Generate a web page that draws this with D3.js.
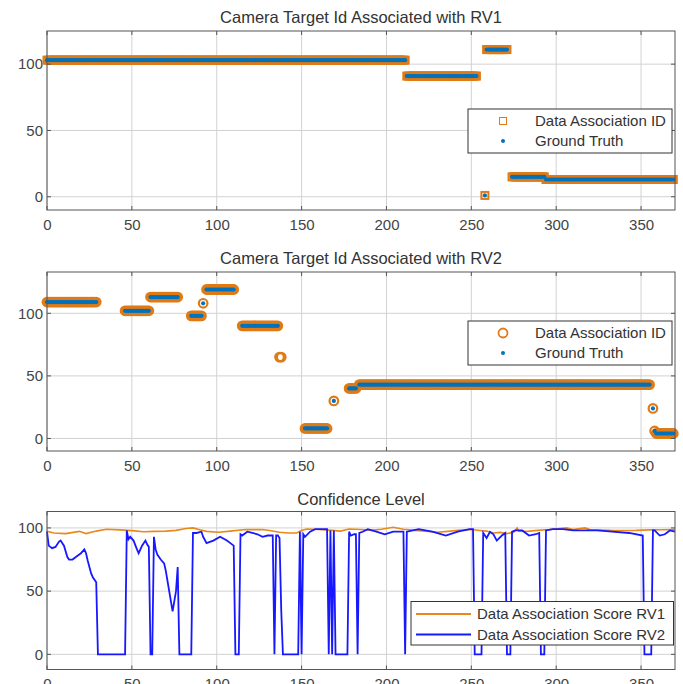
<!DOCTYPE html>
<html>
<meta charset="utf-8">
<head>
    <script src="https://d3js.org/d3.v7.min.js"></script>
</head>

<style>
  body { margin: 0; background: #fff; }
  svg text { font-family: "Liberation Sans", Arial, sans-serif; fill: #404040; }
  svg .title { font-size: 16.5px; text-anchor: middle; fill: #333; }
  svg .tick text { font-size: 15px; fill: #444; }
  svg .grid line { stroke: #d2d2d2; stroke-width: 1; }
  svg .frame { fill: none; stroke: #555; stroke-width: 1; }
  svg .legend rect { fill: #fff; stroke: #333; stroke-width: 1; }
  svg .legend text { font-size: 15px; fill: #333; }
</style>

<body>
<script>

// ticks
var xTicks = [0, 50, 100, 150, 200, 250, 300, 350];
var yTicks = [0, 50, 100];

// RV1 target ids, stored as runs of frames (start, end, id)
var rv1Start = [0, 212, 258, 259, 274, 294];
var rv1End   = [211, 253, 258, 271, 293, 369];
var rv1Id    = [103, 91, 1, 111, 15, 13];
var gt1Start = [0, 212, 258, 259, 274, 294];
var gt1End   = [211, 253, 258, 271, 293, 369];
var gt1Id    = [103, 91, 1, 111, 15, 13];

// RV2 target ids
var rv2Start = [0, 46, 61, 85, 92, 94, 115, 137, 152, 169, 178, 184, 357, 358, 359];
var rv2End   = [29, 60, 77, 91, 92, 110, 136, 138, 165, 169, 182, 355, 357, 358, 369];
var rv2Id    = [109, 102, 113, 98, 108, 119, 90, 65, 8, 30, 40, 43, 24, 6, 4];
var gt2Start = [0, 46, 61, 85, 92, 94, 115, 152, 169, 178, 184, 357, 358, 359];
var gt2End   = [29, 60, 77, 91, 92, 110, 136, 165, 169, 182, 355, 357, 358, 369];
var gt2Id    = [109, 102, 113, 98, 108, 119, 90, 8, 30, 40, 43, 24, 6, 4];

// confidence level
var score1Frame = [0, 4, 11, 19, 23, 29, 35, 43, 50, 57, 63, 70, 76, 82, 86, 90, 94, 101, 108, 117,
                   127, 132, 137, 142, 147, 150, 153, 160, 168, 173, 178, 185, 191, 197, 204, 210,
                   217, 223, 230, 236, 242, 250, 255, 259, 263, 267, 271, 275, 277, 278, 283, 289,
                   296, 302, 306, 310, 314, 317, 320, 326, 332, 340, 347, 355, 362, 370];
var score1Val   = [97.3, 96, 95.5, 97.3, 95.5, 97.5, 99, 98.5, 97.9, 97, 97.3, 97.5, 98.1, 99.5, 100, 98.5,
                   97.3, 96.6, 97.5, 98.7, 98.7, 97.8, 96.6, 96, 96, 98, 99.2, 98.7, 98.1, 97.5, 99.2,
                   98.8, 98.1, 99, 100.5, 99, 98.1, 97.5, 96.6, 97.3, 98.1, 98.7, 98, 97.5, 96, 96.5,
                   95.5, 96.5, 100, 97.5, 97.3, 98.1, 98.7, 99.5, 100, 98.7, 99.5, 100, 98.5, 98.4,
                   98.1, 98, 98.1, 98.5, 98.6, 98.7];

var score2Frame = [0, 1, 3, 5, 7, 8, 10, 12, 13, 15, 18, 20, 22, 23, 24, 26, 27, 29, 30, 46,
                   47, 48, 49, 51, 53, 54, 56, 58, 59, 60, 61, 62, 63, 64, 65, 67, 69, 70, 71, 74,
                   76, 77, 78, 85, 86, 88, 91, 92, 94, 98, 102, 106, 109, 110, 111, 113, 114, 115, 118, 121,
                   124, 127, 130, 133, 134, 135, 136, 137, 138, 139, 148, 149, 150, 151, 152, 155, 158, 165, 166, 167,
                   168, 169, 170, 177, 178, 179, 181, 182, 183, 184, 186, 189, 194, 199, 204, 210, 211, 212, 219, 227,
                   235, 242, 249, 251, 252, 256, 257, 259, 261, 263, 265, 268, 270, 271, 273, 274, 276, 280, 284, 288,
                   290, 291, 293, 294, 298, 304, 310, 316, 324, 333, 343, 351, 352, 356, 357, 358, 361, 364, 367, 370];
var score2Val   = [97, 86, 84, 85, 89, 90, 86, 77, 75, 75, 78, 80, 83, 80, 74, 64, 61, 57, 0, 0,
                   98, 91, 93, 90, 83, 80, 86, 90, 87, 85, 0, 0, 93, 83, 79, 75, 72, 66, 58, 34,
                   50, 69, 0, 0, 96, 96, 97, 93, 88, 90, 93, 90, 87, 86, 0, 0, 95, 94, 97, 96,
                   95, 93, 94, 94, 0, 94, 94, 92, 35, 0, 0, 97, 0, 95, 93, 97, 99, 99, 0, 98,
                   0, 98, 0, 0, 97, 94, 95, 95, 0, 96, 97, 99, 97, 95, 97, 97, 0, 97, 99, 97,
                   94, 97, 99, 99, 0, 0, 96, 92, 97, 95, 90, 94, 96, 0, 0, 97, 98, 98, 94, 95,
                   96, 0, 0, 98, 99, 99, 98, 98, 98, 97, 96, 94, 0, 0, 98, 98, 94, 95, 98, 97];

var orange = "#E07A14",
    blue = "#0072BD";

function expand(starts, ends, ids) {
    var pts = [];
    starts.forEach(function(s, i) {
        for (var f = s; f <= ends[i]; f++) pts.push({f: f, v: ids[i]});
    });
    return pts;
}

var width = 683,
    height = 684,
    left = 47,
    right = 675;

var svg = d3.select("body").append("svg")
    .attr("width", width)
    .attr("height", height);

var x = d3.scaleLinear().domain([0, 370]).range([left, right]);

function panel(top, bottom, yDomain, title, titleY) {
    var y = d3.scaleLinear().domain(yDomain).range([bottom, top]);
    var g = svg.append("g");

    var grid = g.append("g").attr("class", "grid");
    grid.selectAll("line.v").data(xTicks).enter().append("line")
        .attr("x1", function(d) { return x(d); }).attr("x2", function(d) { return x(d); })
        .attr("y1", top).attr("y2", bottom);
    grid.selectAll("line.h").data(yTicks).enter().append("line")
        .attr("x1", left).attr("x2", right)
        .attr("y1", function(d) { return y(d); }).attr("y2", function(d) { return y(d); });

    g.append("g")
        .attr("transform", "translate(0," + bottom + ")")
        .call(d3.axisBottom(x).tickValues(xTicks).tickSize(0).tickPadding(9))
        .call(function(a) { a.select(".domain").remove(); });
    g.append("g")
        .attr("transform", "translate(" + left + ",0)")
        .call(d3.axisLeft(y).tickValues(yTicks).tickSize(0).tickPadding(4))
        .call(function(a) { a.select(".domain").remove(); });

    g.append("text").attr("class", "title")
        .attr("x", (left + right) / 2).attr("y", titleY)
        .text(title);

    var data = g.append("g");
    var frame = g.append("g");
    frame.append("rect").attr("class", "frame")
        .attr("x", left).attr("y", top)
        .attr("width", right - left).attr("height", bottom - top);
    // small inner ticks like the original
    xTicks.forEach(function(t) {
        frame.append("line").attr("stroke", "#555")
            .attr("x1", x(t)).attr("x2", x(t)).attr("y1", bottom).attr("y2", bottom - 4);
        frame.append("line").attr("stroke", "#555")
            .attr("x1", x(t)).attr("x2", x(t)).attr("y1", top).attr("y2", top + 4);
    });
    yTicks.forEach(function(t) {
        frame.append("line").attr("stroke", "#555")
            .attr("x1", left).attr("x2", left + 4).attr("y1", y(t)).attr("y2", y(t));
        frame.append("line").attr("stroke", "#555")
            .attr("x1", right).attr("x2", right - 4).attr("y1", y(t)).attr("y2", y(t));
    });
    return {g: data, y: y, top: g};
}

// ---- panel 1
var p1 = panel(31, 210, [-10, 125], "Camera Target Id Associated with RV1", 23);
p1.g.selectAll("rect").data(expand(rv1Start, rv1End, rv1Id)).enter().append("rect")
    .attr("x", function(d) { return x(d.f) - 3.5; })
    .attr("y", function(d) { return p1.y(d.v) - 3.5; })
    .attr("width", 7).attr("height", 7)
    .attr("fill", "none").attr("stroke", orange).attr("stroke-width", 2);
p1.g.selectAll("circle").data(expand(gt1Start, gt1End, gt1Id)).enter().append("circle")
    .attr("cx", function(d) { return x(d.f); })
    .attr("cy", function(d) { return p1.y(d.v); })
    .attr("r", 2.1).attr("fill", blue);

// ---- panel 2
var p2 = panel(272, 451, [-10, 133], "Camera Target Id Associated with RV2", 264);
p2.g.selectAll("circle.da").data(expand(rv2Start, rv2End, rv2Id)).enter().append("circle")
    .attr("class", "da")
    .attr("cx", function(d) { return x(d.f); })
    .attr("cy", function(d) { return p2.y(d.v); })
    .attr("r", 4.3)
    .attr("fill", "none").attr("stroke", orange).attr("stroke-width", 2.2);
p2.g.selectAll("circle.gt").data(expand(gt2Start, gt2End, gt2Id)).enter().append("circle")
    .attr("class", "gt")
    .attr("cx", function(d) { return x(d.f); })
    .attr("cy", function(d) { return p2.y(d.v); })
    .attr("r", 2.1).attr("fill", blue);

// ---- panel 3
var p3 = panel(511.5, 669.5, [-12, 113], "Confidence Level", 505);
var line3 = d3.line()
    .x(function(d) { return x(d[0]); })
    .y(function(d) { return p3.y(d[1]); });
p3.g.append("path")
    .attr("d", line3(d3.zip(score1Frame, score1Val)))
    .attr("fill", "none").attr("stroke", "#E8891A").attr("stroke-width", 1.6);
p3.g.append("path")
    .attr("d", line3(d3.zip(score2Frame, score2Val)))
    .attr("fill", "none").attr("stroke", "#1818FF").attr("stroke-width", 1.8);

// ---- legends
function idLegend(top, marker) {
    var lg = svg.append("g").attr("class", "legend");
    lg.append("rect").attr("x", 468).attr("y", top).attr("width", 204).attr("height", 44);
    if (marker == "square") {
        lg.append("rect").attr("x", 499.5).attr("y", top + 8.5).attr("width", 7).attr("height", 7)
            .attr("fill", "none").style("fill", "none").style("stroke", orange).attr("stroke-width", 2);
    } else {
        lg.append("circle").attr("cx", 503).attr("cy", top + 12).attr("r", 4.5)
            .style("fill", "none").style("stroke", orange).attr("stroke-width", 1.8);
    }
    lg.append("circle").attr("cx", 503).attr("cy", top + 32).attr("r", 2).attr("fill", blue);
    lg.append("text").attr("x", 535).attr("y", top + 17).text("Data Association ID");
    lg.append("text").attr("x", 535).attr("y", top + 37).text("Ground Truth");
}
idLegend(109, "square");
idLegend(321, "circle");

var lg3 = svg.append("g").attr("class", "legend");
lg3.append("rect").attr("x", 411).attr("y", 601.5).attr("width", 262.5).attr("height", 43.5);
[["Data Association Score RV1", "#E8891A"], ["Data Association Score RV2", "#1818FF"]].forEach(function(d, i) {
    var cy = 614 + i * 20.5;
    lg3.append("line").attr("x1", 416).attr("x2", 471).attr("y1", cy).attr("y2", cy)
        .attr("stroke", d[1]).attr("stroke-width", 2);
    lg3.append("text").attr("x", 477).attr("y", cy + 5).text(d[0]);
});

</script>
</body>
</html>
